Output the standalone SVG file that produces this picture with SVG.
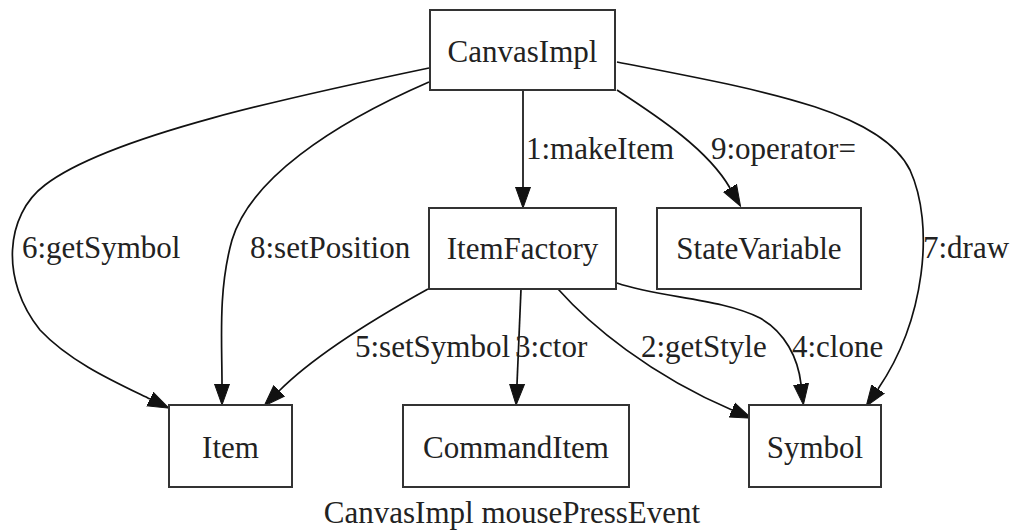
<svg xmlns="http://www.w3.org/2000/svg" width="1011" height="532" viewBox="0 0 1011 532">
  <style>
    .node rect { fill: #ffffff; stroke: #333333; stroke-width: 2; }
    .node text { font-family: "Liberation Serif", "Times New Roman", serif; font-size: 31px; fill: #222222; text-anchor: middle; }
    .edge path { fill: none; stroke: #111111; stroke-width: 1.7; marker-end: url(#arrow); }
    .label { font-family: "Liberation Serif", "Times New Roman", serif; font-size: 31px; fill: #222222; }
    .caption { font-family: "Liberation Serif", "Times New Roman", serif; font-size: 31px; fill: #222222; text-anchor: middle; }
  </style>
  <defs>
    <marker id="arrow" markerUnits="userSpaceOnUse" markerWidth="24" markerHeight="18" refX="0" refY="0" viewBox="0 -9 24 18" orient="auto">
      <path d="M0,-7.5 L21,0 L0,7.5 z" fill="#111111" stroke="#111111" stroke-width="1"/>
    </marker>
  </defs>
  <rect width="1011" height="532" fill="#ffffff"/>

  <!-- connectors -->
  <g id="edges" class="edge">
    <path id="e1" d="M523,90 L523,187"/>
    <path id="e9" d="M617,90 C660,118 708,150 730,188"/>
    <path id="e7" d="M617,62 C760,90 880,110 910,170 C935,225 925,320 878,389"/>
    <path id="e6" d="M429,68 C300,95 110,135 45,185 C5,215 0,280 40,330 C70,362 115,382 150,399"/>
    <path id="e8" d="M429,82 C330,125 250,180 232,240 C218,290 222,340 222,384"/>
    <path id="e5" d="M428,289 C390,310 320,350 279,391"/>
    <path id="e3" d="M521,289 L517,384"/>
    <path id="e2" d="M558,289 C590,325 650,375 732,410"/>
    <path id="e4" d="M617,283 C660,298 720,298 760,318 C785,332 798,358 801,384"/>
  </g>

  <!-- connector labels -->
  <g id="edge-labels" class="label">
    <text x="526" y="159">1:makeItem</text>
    <text x="711" y="159">9:operator=</text>
    <text x="22" y="258">6:getSymbol</text>
    <text x="250" y="258">8:setPosition</text>
    <text x="923" y="258">7:draw</text>
    <text x="355" y="357">5:setSymbol</text>
    <text x="515" y="357">3:ctor</text>
    <text x="641" y="357">2:getStyle</text>
    <text x="792" y="357">4:clone</text>
  </g>

  <!-- nodes -->
  <g id="CanvasImpl" class="node">
    <rect x="430" y="10" width="185" height="80"/>
    <text x="522.5" y="62">CanvasImpl</text>
  </g>
  <g id="ItemFactory" class="node">
    <rect x="429" y="208" width="187" height="81"/>
    <text x="522.5" y="259">ItemFactory</text>
  </g>
  <g id="StateVariable" class="node">
    <rect x="657" y="208" width="204" height="81"/>
    <text x="759" y="259">StateVariable</text>
  </g>
  <g id="Item" class="node">
    <rect x="169" y="405" width="123" height="82"/>
    <text x="230.5" y="458">Item</text>
  </g>
  <g id="CommandItem" class="node">
    <rect x="403" y="405" width="226" height="82"/>
    <text x="516" y="458">CommandItem</text>
  </g>
  <g id="Symbol" class="node">
    <rect x="749" y="405" width="132" height="82"/>
    <text x="815" y="458">Symbol</text>
  </g>

  <text class="caption" x="512" y="523">CanvasImpl mousePressEvent</text>
</svg>
